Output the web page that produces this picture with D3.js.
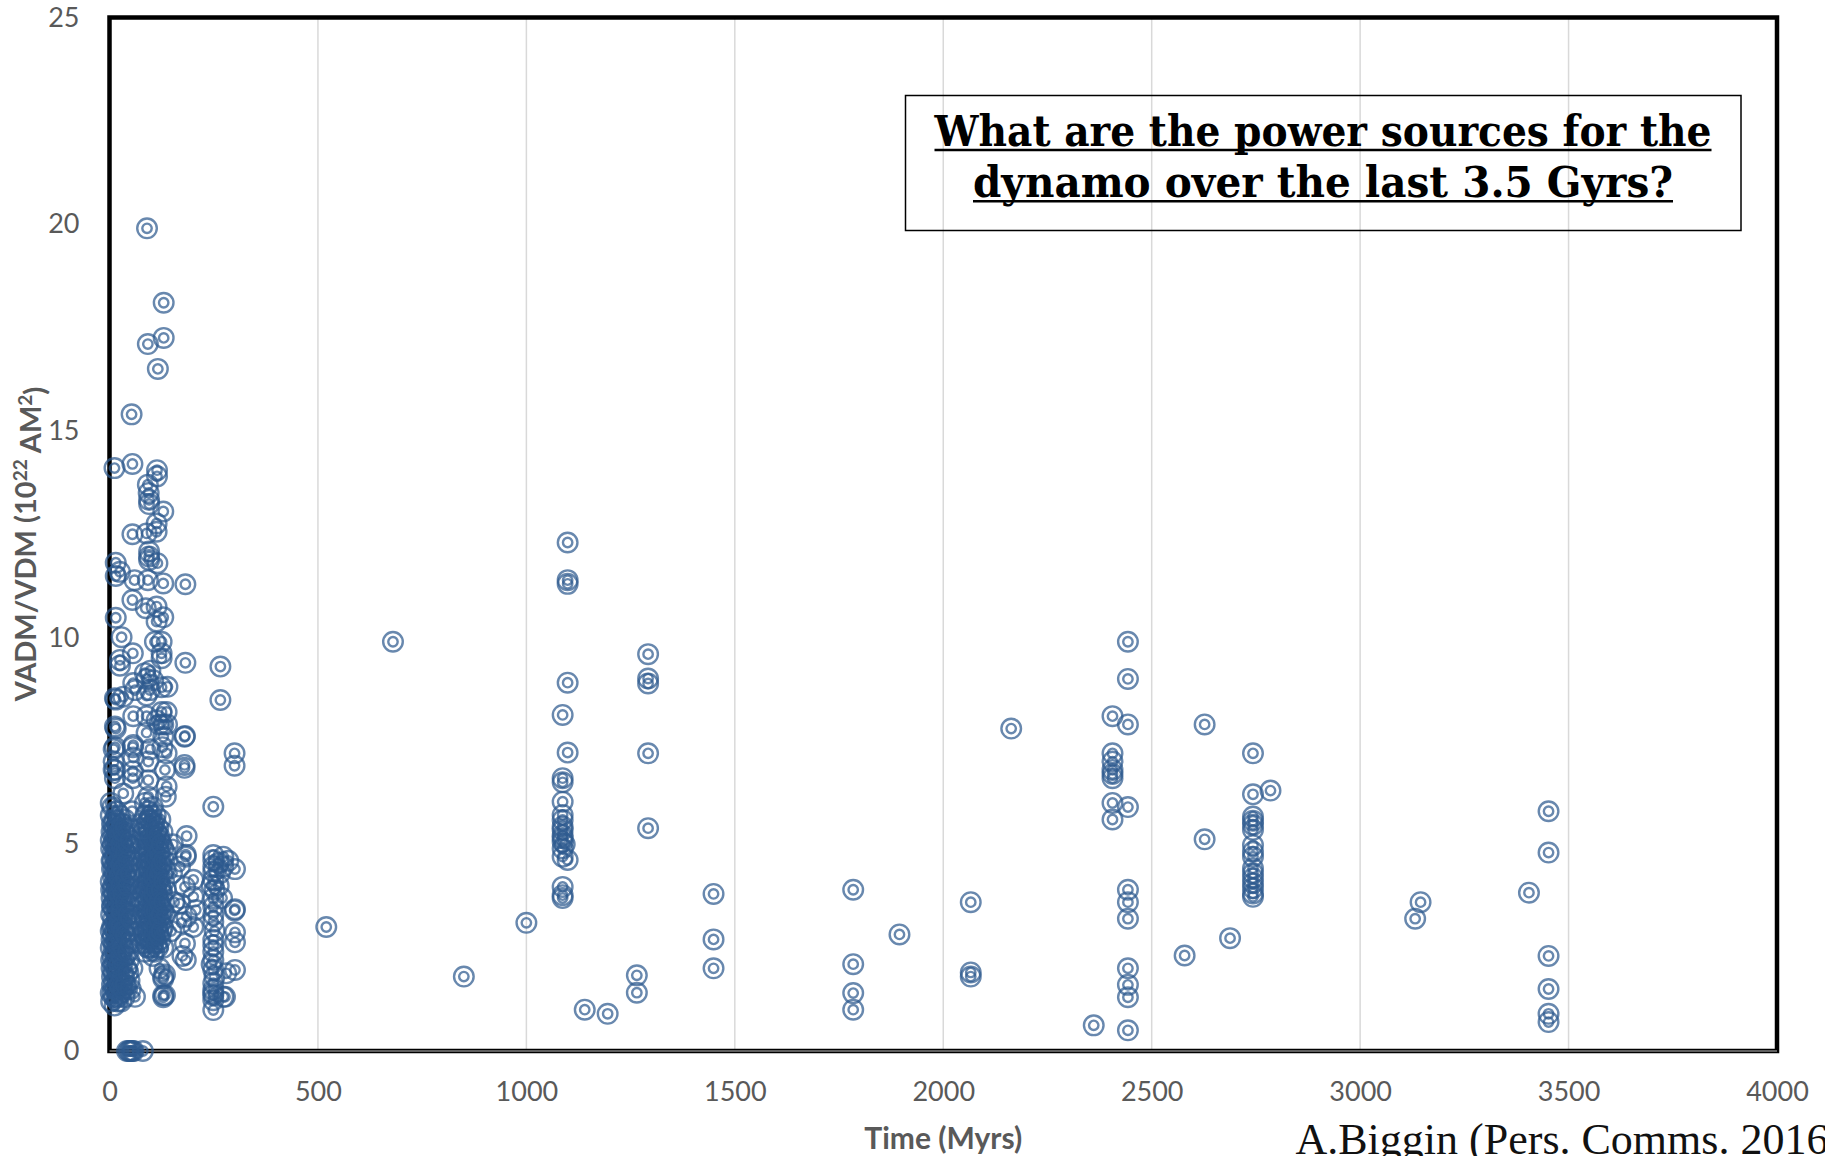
<!DOCTYPE html>
<html>
<head>
<meta charset="utf-8">
<script src="https://cdn.jsdelivr.net/npm/d3@7"></script>
<style>
  body { margin: 0; background: #fff; }
</style>
</head>
<body>
<div class="chart"></div>
<script>
// Tick values for both axes
const xTickValues = [0, 500, 1000, 1500, 2000, 2500, 3000, 3500, 4000];
const yTickValues = [0, 5, 10, 15, 20, 25];

// Data: [age in Myrs, VADM/VDM in 10^22 Am^2]

// 0-300 Myr, strong fields above ~6
const youngHigh = [
  [90, 19.9], [130, 18.1], [130, 17.25], [92, 17.1], [116, 16.5], [53, 15.4], [55, 14.2], [12, 14.1],
  [114, 14.05], [114, 13.9], [92, 13.7], [94, 13.5], [95, 13.33], [95, 13.23], [129, 13.05], [113, 12.76],
  [113, 12.56], [55, 12.5], [89, 12.52], [95, 12.08], [95, 11.96], [95, 11.88], [115, 11.8], [15, 11.81],
  [25, 11.59], [15, 11.49], [60, 11.39], [92, 11.39], [129, 11.31], [182, 11.29], [55, 10.91], [87, 10.71],
  [113, 10.75], [129, 10.49], [113, 10.39], [15, 10.48], [29, 10.01], [109, 9.9], [125, 9.9], [56, 9.62],
  [125, 9.62], [125, 9.5], [25, 9.46], [25, 9.32], [182, 9.39], [266, 9.3], [266, 8.49], [98, 9.2],
  [57, 8.9], [125, 8.8], [89, 9.0], [15, 8.5], [89, 8.6], [125, 8.2], [57, 8.1], [89, 8.1],
  [129, 7.9], [15, 7.8], [89, 7.7], [180, 7.6], [181, 7.62], [129, 7.6], [300, 7.2], [300, 6.9],
  [10, 7.3], [57, 7.4], [98, 7.3], [10, 7.0], [57, 7.1], [180, 6.92], [180, 6.85], [10, 6.8],
  [85, 9.14], [105, 8.97], [97, 8.73], [139, 8.81], [61, 8.73], [13, 8.53], [33, 8.57],
  [137, 8.2], [113, 8.0], [120, 7.9], [138, 7.9], [13, 7.85],
  [13, 7.35], [56, 7.35], [127, 7.35], [137, 7.2], [93, 7.0],
  [13, 6.8], [56, 6.77], [56, 6.6], [13, 6.6], [93, 6.55], [137, 6.4], [133, 6.8], [33, 6.23],
  [93, 6.15], [3, 6.0], [135, 6.15]
];

// 0-60 Myr dense block
const cenozoic = [
  [4, 1.2], [6, 1.6], [5, 2.0], [3, 2.5], [6, 3.0], [4, 3.3], [5, 3.7], [3, 4.1], [6, 4.4], [4, 4.9], [5, 5.3], [3, 5.7],
  [8, 1.4], [9, 1.9], [7, 2.3], [8, 2.8], [9, 3.2], [7, 3.5], [8, 3.9], [9, 4.2], [7, 4.6], [8, 5.0], [9, 5.5], [7, 5.9],
  [12, 1.1], [11, 1.3], [13, 1.8], [12, 2.1], [11, 2.6], [13, 2.9], [12, 3.4], [11, 3.8], [13, 4.3], [12, 4.7], [11, 5.1], [13, 5.6],
  [16, 1.5], [17, 2.0], [15, 2.4], [16, 2.7], [17, 3.1], [15, 3.6], [16, 4.0], [17, 4.5], [15, 4.8], [16, 5.2], [17, 5.8],
  [20, 1.2], [21, 1.7], [19, 2.2], [20, 3.0], [21, 3.3], [19, 3.7], [20, 4.1], [21, 4.4], [19, 5.0], [20, 5.4],
  [25, 1.4], [24, 1.9], [26, 2.5], [25, 2.8], [24, 3.5], [26, 3.9], [25, 4.3], [24, 4.6], [26, 5.3], [25, 5.7],
  [30, 1.6], [31, 2.1], [29, 2.7], [30, 3.2], [31, 3.6], [29, 4.2], [30, 4.8], [31, 5.1], [29, 5.5],
  [36, 1.3], [35, 1.8], [37, 2.3], [36, 3.0], [35, 3.4], [37, 4.0], [36, 4.5], [35, 4.9], [37, 5.6],
  [42, 1.5], [41, 2.0], [43, 2.6], [42, 3.1], [41, 3.8], [43, 4.4], [42, 5.2],
  [48, 1.7], [47, 2.2], [49, 2.9], [48, 3.5], [47, 4.1], [49, 4.7], [48, 5.4],
  [55, 2.0], [54, 3.3], [56, 3.9], [55, 4.6], [54, 5.8], [61, 1.31], [60, 3.6], [62, 4.9]
];

// more 0-60 Myr entries filling the core of the block
const cenozoicCore = [
  [3, 1.4], [6, 1.8], [4, 2.2], [5, 2.7], [3, 2.9], [6, 3.5], [4, 3.9], [5, 4.6], [3, 5.1], [6, 5.5],
  [10, 1.6], [9, 2.1], [10, 2.5], [9, 3.0], [10, 3.6], [9, 4.0], [10, 4.4], [9, 4.8], [10, 5.3],
  [14, 1.5], [14, 2.3], [14, 3.1], [14, 3.6], [14, 4.1], [14, 4.5], [14, 5.0], [14, 5.4],
  [18, 1.3], [18, 1.8], [18, 2.6], [18, 3.4], [18, 3.9], [18, 4.3], [18, 4.7], [18, 5.5],
  [23, 1.6], [23, 2.1], [23, 3.1], [23, 3.8], [23, 4.2], [23, 4.9], [23, 5.2],
  [28, 1.2], [28, 2.3], [28, 3.0], [28, 3.4], [28, 4.0], [28, 4.5], [28, 5.0],
  [33, 1.5], [33, 2.5], [33, 2.9], [33, 3.8], [33, 4.4], [33, 5.3],
  [39, 1.6], [39, 2.8], [39, 3.6], [39, 4.2], [39, 4.8], [39, 5.4],
  [45, 1.9], [45, 2.4], [45, 3.3], [45, 4.0], [45, 4.6], [45, 5.0],
  [51, 1.5], [51, 2.6], [51, 3.2], [51, 4.3], [51, 5.1]
];

// 75-160 Myr dense block
const mesozoic = [
  [78, 2.6], [79, 3.0], [77, 3.5], [80, 4.0], [78, 4.5], [79, 5.0], [77, 5.5],
  [85, 2.4], [84, 2.8], [86, 3.2], [85, 3.6], [84, 3.9], [86, 4.3], [85, 4.7], [84, 5.2], [86, 5.7], [85, 6.0],
  [92, 2.5], [91, 2.9], [93, 3.3], [92, 3.7], [91, 4.1], [93, 4.4], [92, 4.8], [91, 5.1], [93, 5.4], [92, 5.8],
  [98, 2.7], [99, 3.1], [97, 3.4], [98, 3.8], [99, 4.2], [97, 4.6], [98, 4.9], [99, 5.3], [97, 5.6],
  [104, 2.3], [105, 2.6], [103, 3.0], [104, 3.5], [105, 3.9], [103, 4.3], [104, 4.7], [105, 5.0], [103, 5.5], [104, 5.9],
  [110, 2.8], [111, 3.2], [109, 3.6], [110, 4.0], [111, 4.4], [109, 4.8], [110, 5.2], [111, 5.7],
  [116, 2.5], [117, 2.9], [115, 3.3], [116, 3.7], [117, 4.1], [115, 4.5], [116, 5.0], [117, 5.4],
  [122, 2.7], [123, 3.1], [121, 3.5], [122, 4.0], [123, 4.6], [121, 5.1], [122, 5.6],
  [128, 3.0], [129, 3.4], [127, 3.8], [128, 4.3], [129, 4.9], [127, 5.3],
  [134, 3.3], [135, 3.9], [133, 4.4], [134, 4.8],
  [150, 4.3], [155, 3.6], [148, 2.9], [152, 5.0], [87, 2.75], [129, 2.5],
  [129, 1.8], [129, 1.75], [129, 1.3], [129, 1.35], [120, 2.0], [133, 1.85], [133, 1.35]
];

// more 75-140 Myr entries filling the core of the block
const mesozoicCore = [
  [81, 2.8], [81, 3.3], [81, 3.8], [81, 4.2], [81, 4.8], [81, 5.3],
  [88, 2.6], [88, 3.0], [88, 3.4], [88, 4.0], [88, 4.5], [88, 5.0], [88, 5.5],
  [95, 2.7], [95, 3.1], [95, 3.5], [95, 3.9], [95, 4.3], [95, 4.6], [95, 5.0], [95, 5.6],
  [101, 2.5], [101, 2.9], [101, 3.3], [101, 3.7], [101, 4.1], [101, 4.5], [101, 5.2], [101, 5.7],
  [107, 2.4], [107, 2.8], [107, 3.4], [107, 3.8], [107, 4.2], [107, 4.6], [107, 5.1], [107, 5.5],
  [113, 2.6], [113, 3.0], [113, 3.4], [113, 3.9], [113, 4.3], [113, 4.7], [113, 5.3],
  [119, 2.8], [119, 3.2], [119, 3.6], [119, 4.2], [119, 4.8], [119, 5.2],
  [125, 2.9], [125, 3.3], [125, 3.9], [125, 4.5], [125, 5.0],
  [131, 3.6], [131, 4.1], [131, 4.6]
];

// 160-310 Myr
const permianTriassic = [
  [185, 5.2], [183, 4.7], [183, 4.75], [169, 4.46], [201, 4.14], [181, 3.97], [201, 3.73], [169, 3.57],
  [207, 3.41], [185, 3.25], [173, 3.1], [201, 3.0], [181, 2.6], [183, 2.2], [175, 2.3], [249, 5.91],
  [249, 4.74], [249, 4.62], [249, 4.46], [249, 4.34], [249, 4.14], [249, 3.69], [249, 3.49], [249, 3.29],
  [249, 3.13], [249, 2.69], [249, 2.56], [249, 2.4], [249, 2.2], [249, 1.96], [249, 1.64], [249, 1.48],
  [249, 1.35], [249, 1.23], [249, 0.99], [245, 4.0], [252, 3.9], [252, 2.9], [245, 2.1], [252, 1.8], [249, 1.4],
  [273, 4.7], [301, 4.4], [273, 4.46], [262, 4.55], [285, 4.6], [265, 4.3], [301, 3.43], [300, 3.4],
  [301, 2.87], [301, 2.63], [280, 1.88], [277, 1.31], [301, 1.96], [273, 1.31], [262, 4.0], [270, 3.7]
];

// zero-field entries
const zeroField = [[42, 0], [46, 0], [49, 0], [52, 0], [55, 0], [58, 0], [80, 0]];

// 500-2400 Myr
const proterozoic = [
  [520, 3.0], [680, 9.9], [850, 1.8], [1000, 3.1],
  [1099, 12.3], [1099, 11.39], [1099, 11.3], [1099, 8.91], [1087, 8.13], [1099, 7.22], [1087, 6.6], [1087, 6.5],
  [1087, 6.03], [1087, 5.71], [1087, 5.59], [1087, 5.43], [1087, 5.35], [1087, 5.22], [1087, 5.15], [1087, 5.06],
  [1092, 5.0], [1087, 4.9], [1087, 4.7], [1099, 4.62], [1087, 3.97], [1087, 3.77], [1087, 3.7],
  [1140, 1.0], [1195, 0.9], [1265, 1.83], [1265, 1.41],
  [1292, 9.6], [1292, 9.01], [1292, 8.89], [1292, 7.2], [1292, 5.39],
  [1449, 3.8], [1449, 2.7], [1449, 2.0],
  [1784, 3.9], [1784, 2.1], [1784, 1.4], [1784, 1.0], [1895, 2.82],
  [2066, 3.6], [2066, 1.9], [2066, 1.8], [2163, 7.8], [2361, 0.62]
];

// 2400-3500 Myr
const archeanEdge = [
  [2406, 8.1], [2406, 7.2], [2406, 7.0], [2406, 6.8], [2406, 6.7], [2406, 6.6], [2406, 6.0], [2406, 5.6],
  [2443, 9.9], [2443, 9.0], [2443, 7.9], [2443, 5.9], [2443, 3.9], [2443, 3.6], [2443, 3.2], [2443, 2.0],
  [2443, 1.6], [2443, 1.3], [2443, 0.5],
  [2579, 2.31], [2627, 7.9], [2627, 5.12], [2688, 2.73],
  [2743, 7.2], [2743, 6.21], [2785, 6.3], [2743, 5.67], [2743, 5.57], [2743, 5.47], [2743, 5.35], [2743, 4.98],
  [2743, 4.82], [2743, 4.7], [2743, 4.42], [2743, 4.3], [2743, 4.18], [2743, 4.06], [2743, 3.94], [2743, 3.81],
  [2743, 3.73],
  [3132, 3.2], [3145, 3.6], [3405, 3.83],
  [3452, 5.8], [3452, 4.8], [3452, 2.3], [3452, 1.5], [3452, 0.9], [3452, 0.7]
];

const allPoints = [].concat(youngHigh, cenozoic, cenozoicCore, mesozoic, mesozoicCore,
  permianTriassic, zeroField, proterozoic, archeanEdge);

// Chart dimensions
const margin = { top: 17.5, right: 48, bottom: 105, left: 109.5 };
const W = 1825, H = 1156;
const width = W - margin.left - margin.right;
const height = H - margin.top - margin.bottom;

const root = d3.select(".chart")
  .append("svg")
  .attr("width", W)
  .attr("height", H)
  .style("display", "block")
  .style("background", "#fff");

const svg = root.append("g")
  .attr("transform", `translate(${margin.left}, ${margin.top})`);

const xScale = d3.scaleLinear().domain([0, 4000]).range([0, width]);
const yScale = d3.scaleLinear().domain([0, 25]).range([height, 0]);

// vertical gridlines
svg.selectAll(".grid")
  .data(xTickValues.slice(1, -1))
  .enter()
  .append("line")
  .attr("x1", d => xScale(d))
  .attr("x2", d => xScale(d))
  .attr("y1", 0)
  .attr("y2", height)
  .attr("stroke", "#d9d9d9")
  .attr("stroke-width", 1.5);

// x axis
const xAxis = svg.append("g")
  .attr("transform", `translate(0, ${height})`)
  .call(d3.axisBottom(xScale).tickValues(xTickValues).tickSize(0).tickPadding(31).tickFormat(d3.format("d")));
xAxis.select(".domain").remove();
xAxis.selectAll("text")
  .attr("fill", "#595959")
  .style("font-family", "Lato, 'Open Sans', sans-serif")
  .style("font-size", "27px");

// y axis
const yAxis = svg.append("g")
  .call(d3.axisLeft(yScale).tickValues(yTickValues).tickSize(0).tickPadding(30));
yAxis.select(".domain").remove();
yAxis.selectAll("text")
  .attr("fill", "#595959")
  .style("font-family", "Lato, 'Open Sans', sans-serif")
  .style("font-size", "27px");

// plot frame
svg.append("rect")
  .attr("x", 0)
  .attr("y", 0)
  .attr("width", width)
  .attr("height", height)
  .attr("fill", "none")
  .attr("stroke", "#000")
  .attr("stroke-width", 4.5);

svg.append("line")
  .attr("x1", 0)
  .attr("x2", width)
  .attr("y1", height)
  .attr("y2", height)
  .attr("stroke", "#bfbfbf")
  .attr("stroke-width", 1.2);

// double-circle markers
const markers = svg.selectAll(".pt")
  .data(allPoints)
  .enter()
  .append("g")
  .attr("class", "pt")
  .attr("transform", d => `translate(${xScale(d[0])}, ${yScale(d[1])})`);

markers.append("circle")
  .attr("r", 9.8)
  .attr("fill", "none")
  .attr("stroke", "#2e5a8f")
  .attr("stroke-opacity", 0.72)
  .attr("stroke-width", 2.4);

markers.append("circle")
  .attr("r", 4.7)
  .attr("fill", "none")
  .attr("stroke", "#2e5a8f")
  .attr("stroke-opacity", 0.72)
  .attr("stroke-width", 2.4);

// axis titles
root.append("text")
  .attr("x", margin.left + width / 2)
  .attr("y", 1149)
  .attr("text-anchor", "middle")
  .attr("fill", "#595959")
  .style("font-family", "Lato, 'Open Sans', sans-serif")
  .style("font-weight", "bold")
  .style("font-size", "30px")
  .text("Time (Myrs)");

const yLabel = root.append("text")
  .attr("transform", "translate(36, 544) rotate(-90)")
  .attr("text-anchor", "middle")
  .attr("fill", "#595959")
  .style("font-family", "Lato, 'Open Sans', sans-serif")
  .style("font-weight", "bold")
  .style("font-size", "29px");
yLabel.append("tspan").text("VADM/VDM (10");
yLabel.append("tspan").attr("dy", "-0.45em").style("font-size", "19px").text("22");
yLabel.append("tspan").attr("dy", "0.45em").text(" AM");
yLabel.append("tspan").attr("dy", "-0.45em").style("font-size", "19px").text("2");
yLabel.append("tspan").attr("dy", "0.45em").text(")");

// title box
root.append("rect")
  .attr("x", 905.5)
  .attr("y", 95.5)
  .attr("width", 835.5)
  .attr("height", 135)
  .attr("fill", "none")
  .attr("stroke", "#000")
  .attr("stroke-width", 1.5);

const titleLines = [
  { text: "What are the power sources for the", y: 145.5, len: 777 },
  { text: "dynamo over the last 3.5 Gyrs?", y: 196.7, len: 700 }
];
const cx = 1323;
titleLines.forEach(t => {
  root.append("text")
    .attr("x", cx)
    .attr("y", t.y)
    .attr("text-anchor", "middle")
    .attr("textLength", t.len)
    .attr("lengthAdjust", "spacingAndGlyphs")
    .style("font-family", "'DejaVu Serif', serif")
    .style("font-weight", "bold")
    .style("font-size", "42px")
    .attr("fill", "#000")
    .text(t.text);
  root.append("line")
    .attr("x1", cx - t.len / 2)
    .attr("x2", cx + t.len / 2)
    .attr("y1", t.y + 4.5)
    .attr("y2", t.y + 4.5)
    .attr("stroke", "#000")
    .attr("stroke-width", 2.5);
});

// credit (runs off the right edge, as in the source figure)
root.append("text")
  .attr("x", 1295.5)
  .attr("y", 1154)
  .attr("fill", "#111")
  .style("font-family", "'Liberation Serif', serif")
  .style("font-size", "44px")
  .text("A.Biggin (Pers. Comms. 2016)");
</script>
</body>
</html>
